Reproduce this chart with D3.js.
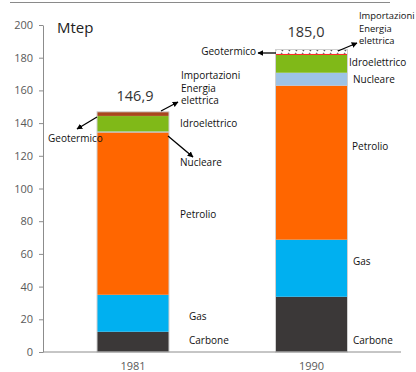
<!DOCTYPE html>
<html>
<head>
<meta charset="utf-8">
<script src="https://cdn.jsdelivr.net/npm/d3@7"></script>
<style>
  html, body { margin: 0; padding: 0; background: #fff; }
  svg { display: block; font-family: "Open Sans", "Liberation Sans", sans-serif; }
</style>
</head>
<body>
<svg id="chart" width="416" height="372"></svg>
<script>
// Consumo di energia primaria per fonte, Mtep
const years = ["1981", "1990"];
const sources = ["Carbone", "Gas", "Petrolio", "Nucleare", "Idroelettrico", "Geotermico", "Importazioni"];
const carbone       = [12.4, 33.8];
const gas           = [22.6, 34.9];
const petrolio      = [99.3, 94.2];
const nucleare      = [0.6, 7.9];
const idroelettrico = [9.4, 10.9];
const geotermico    = [0.6, 0.7];
const importazioni  = [2.0, 2.6];
const totals        = [146.9, 185.0];
const totalLabels   = ["146,9", "185,0"];
const yTicks        = [0, 20, 40, 60, 80, 100, 120, 140, 160, 180, 200];

const seriesValues = {
  Carbone: carbone, Gas: gas, Petrolio: petrolio, Nucleare: nucleare,
  Idroelettrico: idroelettrico, Geotermico: geotermico, Importazioni: importazioni
};
const rows = years.map((y, i) => {
  const r = { year: y };
  sources.forEach(s => r[s] = seriesValues[s][i]);
  return r;
});

const colors = {
  Carbone: "#3b3838", Gas: "#00b0f0", Petrolio: "#ff6600", Nucleare: "#9dc3e6",
  Idroelettrico: "#80b918", Geotermico: "#ff1a1a", Importazioni: "url(#hatch)"
};
// in 1981 the thin top layers are drawn as a single brown band
const earlyTop = "#a8461c";

const svg = d3.select("#chart");
const defs = svg.append("defs");
const pat = defs.append("pattern").attr("id", "hatch").attr("patternUnits", "userSpaceOnUse")
  .attr("width", 7).attr("height", 4);
pat.append("rect").attr("width", 7).attr("height", 4).attr("fill", "#fff");
pat.append("path").attr("d", "M1,1 L3,3").attr("stroke", "#555").attr("stroke-width", 1.2);

const x0 = 43, x1 = 401;
const y = d3.scaleLinear().domain([0, 200]).range([352, 25]);
const xCenter = d3.scalePoint().domain(years).range([133, 311.5]);
const barW = 72;

// top rule
svg.append("line").attr("x1", 10).attr("x2", 390).attr("y1", 2.5).attr("y2", 2.5)
  .attr("stroke", "#8a8a8a").attr("stroke-width", 1);

// y axis
const yAxis = svg.append("g").attr("transform", `translate(${x0},0)`)
  .call(d3.axisLeft(y).tickValues(yTicks).tickSize(4).tickPadding(6).tickSizeOuter(0));
yAxis.select(".domain").attr("stroke", "#8c8c8c");
yAxis.selectAll(".tick line").attr("stroke", "#8c8c8c");
yAxis.selectAll(".tick text").attr("fill", "#595959").style("font-size", "11px")
  .style("font-family", "'Open Sans', sans-serif");

// stacked bars
const stack = d3.stack().keys(sources)(rows);
const g = svg.append("g");
stack.forEach(layer => {
  g.selectAll(null).data(layer).enter().append("rect")
    .attr("x", d => xCenter(d.data.year) - barW / 2)
    .attr("width", barW)
    .attr("y", d => y(d[1]))
    .attr("height", d => y(d[0]) - y(d[1]))
    .attr("fill", d => (d.data.year === "1981" && (layer.key === "Geotermico" || layer.key === "Importazioni"))
      ? earlyTop : colors[layer.key]);
});
// bar outline
years.forEach((yr, i) => {
  g.append("rect").attr("x", xCenter(yr) - barW / 2).attr("width", barW)
    .attr("y", y(totals[i])).attr("height", y(0) - y(totals[i]))
    .attr("fill", "none").attr("stroke", "#d0d0d0").attr("stroke-width", 1);
});

// x axis
svg.append("line").attr("x1", x0).attr("x2", x1).attr("y1", y(0)).attr("y2", y(0))
  .attr("stroke", "#8c8c8c");
years.forEach(yr => {
  svg.append("text").attr("x", xCenter(yr)).attr("y", 370).attr("text-anchor", "middle")
    .attr("fill", "#595959").style("font-size", "11px").text(yr);
});

// unit
svg.append("text").attr("x", 57).attr("y", 33).attr("fill", "#222").style("font-size", "15px").text("Mtep");

// totals
svg.append("text").attr("x", 135).attr("y", 101).attr("text-anchor", "middle")
  .attr("fill", "#333").style("font-size", "14.5px").text(totalLabels[0]);
svg.append("text").attr("x", 306).attr("y", 37).attr("text-anchor", "middle")
  .attr("fill", "#333").style("font-size", "14.5px").text(totalLabels[1]);

// arrow marker
defs.append("marker").attr("id", "arr").attr("viewBox", "0 0 10 10").attr("refX", 9).attr("refY", 5)
  .attr("markerWidth", 4.5).attr("markerHeight", 4.5).attr("orient", "auto")
  .append("path").attr("d", "M0,0 L10,5 L0,10 z").attr("fill", "#000");

function label(xp, yp, lines, size = 10, lh = 12.5) {
  const t = svg.append("text").attr("x", xp).attr("y", yp).attr("fill", "#111").style("font-size", size + "px");
  lines.forEach((l, i) => t.append("tspan").attr("x", xp).attr("y", yp + i * lh).text(l));
}
function arrow(xa, ya, xb, yb) {
  svg.append("line").attr("x1", xa).attr("y1", ya).attr("x2", xb).attr("y2", yb)
    .attr("stroke", "#000").attr("stroke-width", 1.3).attr("marker-end", "url(#arr)");
}

// 1981 annotations
label(181, 79, ["Importazioni", "Energia", "elettrica"]);
arrow(161, 111, 178, 102);
label(180, 127, ["Idroelettrico"]);
arrow(168, 136, 193, 157);
label(180, 166, ["Nucleare"]);
arrow(97, 117, 77, 129);
label(48, 142, ["Geotermico"]);
label(180, 218, ["Petrolio"]);
label(189, 320, ["Gas"]);
label(189, 344, ["Carbone"]);

// 1990 annotations
label(359, 19, ["Importazioni", "Energia", "elettrica"], 9.4);
arrow(338, 51, 357, 43);
arrow(276, 53, 258, 53);
svg.append("text").attr("x", 256).attr("y", 55).attr("text-anchor", "end").attr("fill", "#111")
  .style("font-size", "10px").text("Geotermico");
label(349, 66, ["Idroelettrico"]);
label(353, 83, ["Nucleare"]);
label(352, 150, ["Petrolio"]);
label(353, 265, ["Gas"]);
label(353, 344, ["Carbone"]);
</script>
</body>
</html>
